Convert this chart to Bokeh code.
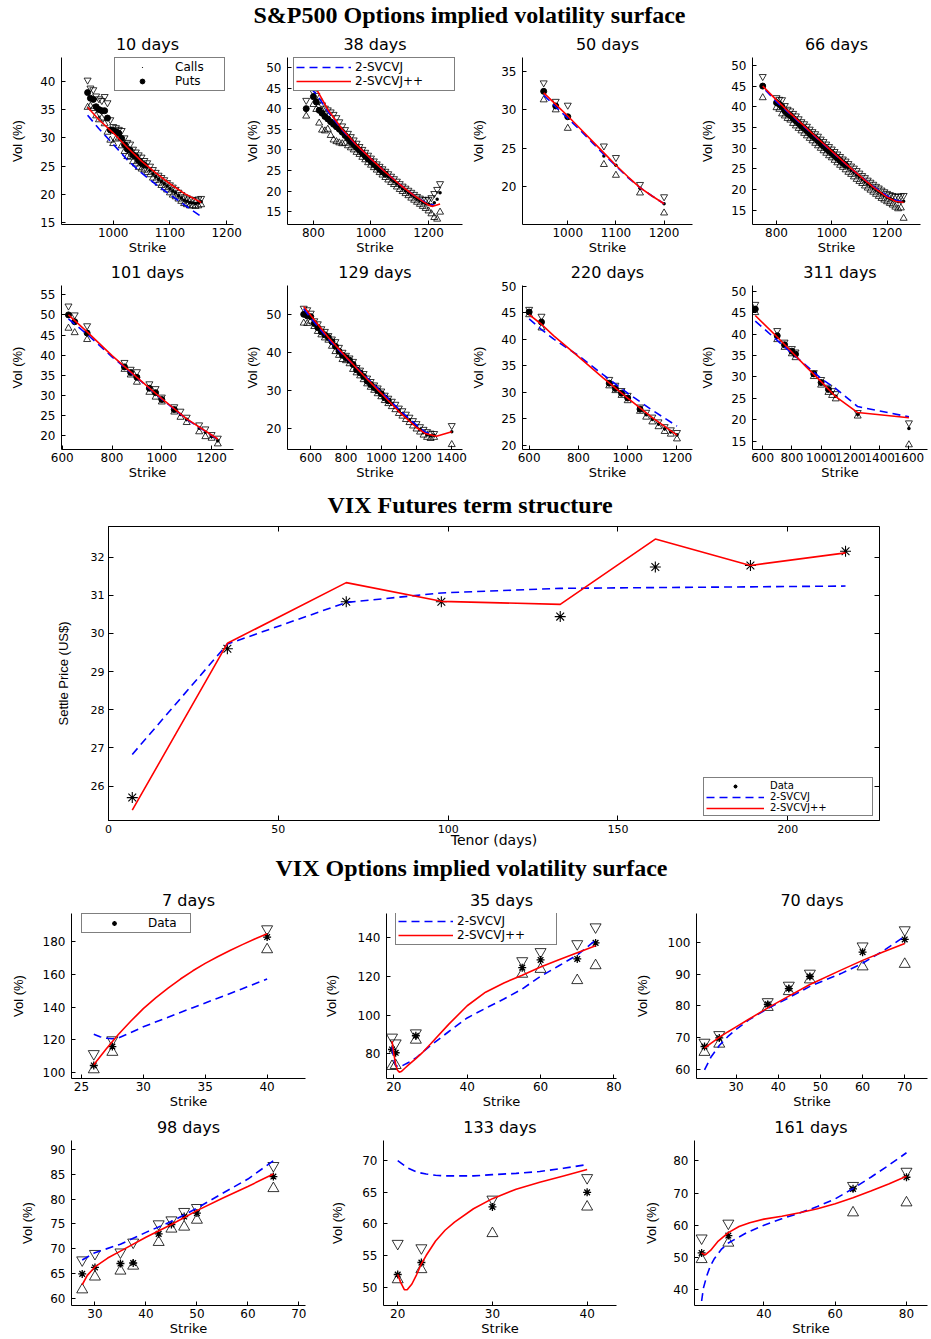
from bokeh.plotting import figure
from bokeh.models import Range1d, FixedTicker, Legend, LegendItem, LinearAxis
from bokeh.layouts import column, row
from bokeh.embed import file_html
from bokeh.resources import INLINE
from bokeh.core.properties import value

# ======================= DATA =======================
# --- S&P500 options: strikes, mid / ask / bid implied vols, model curves ---
spx10_k = [955,960,965,970,975,980,985,990,995,1000,1005,1010,1015,1020,1025,1030,1035,1040,1045,1050,
           1055,1060,1065,1070,1075,1080,1085,1090,1095,1100,1105,1110,1115,1120,1125,1130,1135,1140,1145,1150,1155]
spx10_mid = [38.0,37.0,36.8,35.5,35.0,34.8,34.8,33.5,31.4,31.3,31.1,30.8,29.9,28.8,28.0,27.8,27.0,26.7,26.0,25.5,
             25.2,24.8,24.3,23.6,23.2,22.7,22.3,21.9,21.5,21.0,20.6,20.3,19.8,19.4,19.0,18.8,18.6,18.5,18.4,18.5,18.7]
spx10_ask = [40.2,38.8,38.5,37.4,36.9,36.6,37.3,36.2,33.2,32.0,31.8,31.5,31.3,30.0,29.2,28.9,28.0,27.5,27.0,26.6,
             26.0,25.6,25.0,24.4,23.9,23.4,23.0,22.6,22.1,21.7,21.3,20.9,20.4,20.0,19.6,19.4,19.2,19.1,19.0,19.2,19.3]
spx10_bid = [35.4,35.6,35.2,33.9,33.2,33.5,32.5,31.0,29.6,29.0,29.8,30.0,28.6,27.6,26.7,26.6,25.8,25.4,24.8,24.5,
             24.3,23.9,23.5,22.9,22.5,22.0,21.6,21.2,20.8,20.3,19.9,19.6,19.2,18.8,18.4,18.2,18.0,18.0,17.9,18.0,18.2]
spx10_ck = [955,975,1000,1025,1050,1075,1100,1125,1155]
spx10_svcvj = [34.0,31.6,28.9,26.1,23.8,21.8,20.0,18.2,16.1]
spx10_svcvjpp = [35.4,33.2,30.9,28.3,25.9,23.8,21.9,20.2,18.6]

spx38_k = [775,800,810,820,830,840,850,860,870,880,890,900,910,920,930,940,950,960,970,980,990,1000,1010,1020,
           1030,1040,1050,1060,1070,1080,1090,1100,1110,1120,1130,1140,1150,1160,1170,1180,1190,1200,1210,1220,1230,1240]
spx38_mid = [40.0,42.9,41.6,39.6,38.9,38.1,37.5,36.8,36.2,35.6,35.0,34.3,33.5,32.8,32.0,31.3,30.6,29.9,29.2,28.5,27.8,
             27.2,26.5,25.9,25.3,24.7,24.1,23.5,22.9,22.3,21.8,21.2,20.6,20.1,19.6,19.1,18.6,18.1,17.7,17.3,17.0,16.8,
             16.6,17.2,18.0,19.6]
spx38_ask = [42.0,44.0,43.2,41.8,40.9,40.1,39.7,39.2,38.6,37.8,36.8,35.8,34.9,34.0,33.2,32.4,31.6,30.8,30.1,29.4,28.7,
             28.0,27.3,26.6,26.0,25.4,24.8,24.2,23.6,23.0,22.4,21.8,21.2,20.7,20.2,19.7,19.2,18.7,18.3,18.0,17.9,18.0,
             18.4,19.4,20.4,21.8]
spx38_bid = [38.2,41.0,39.8,36.5,34.8,34.6,35.0,33.5,32.4,32.0,31.7,31.5,31.6,31.0,30.5,30.0,29.4,28.9,28.2,27.6,26.9,
             26.3,25.7,25.1,24.5,23.9,23.3,22.7,22.1,21.6,21.0,20.4,19.9,19.4,18.9,18.3,17.8,17.3,16.8,16.3,15.8,15.2,
             14.5,13.6,13.2,14.9]
spx38_ck_b = [790,814,850,900,950,1000,1050,1100,1150,1200,1220]
spx38_svcvj = [45.0,43.2,39.3,34.8,31.1,27.8,24.6,21.6,18.9,16.8,16.6]
spx38_ck_r = [814,850,900,950,1000,1050,1100,1150,1200,1215,1240]
spx38_svcvjpp = [44.3,39.8,35.0,31.2,27.8,24.6,21.6,18.9,16.6,16.3,16.9]

spx50_k = [950,975,1000,1075,1100,1150,1200]
spx50_mid = [32.4,30.5,29.1,24.0,22.8,19.8,17.8]
spx50_ask = [33.5,31.1,30.6,25.3,23.8,20.3,18.7]
spx50_bid = [31.3,30.0,27.6,22.9,21.5,19.2,16.6]
spx50_ck = [950,975,1000,1025,1050,1075,1100,1125,1150,1175,1200]
spx50_svcvj = [31.9,30.4,28.9,27.4,25.8,24.2,22.7,21.2,19.9,18.8,17.8]
spx50_svcvjpp = [32.2,30.7,29.2,27.6,26.0,24.4,22.8,21.3,19.9,18.8,17.8]

spx66_k = [750,800,810,820,830,840,850,860,870,880,890,900,910,920,930,940,950,960,970,980,990,1000,1010,1020,
           1030,1040,1050,1060,1070,1080,1090,1100,1110,1120,1130,1140,1150,1160,1170,1180,1190,1200,1210,1220,1230,
           1240,1250,1260]
spx66_mid = [45.0,41.0,40.6,40.0,39.0,38.3,37.9,37.2,36.6,36.0,35.3,34.8,34.2,33.5,32.9,32.4,31.8,31.1,30.5,29.9,29.3,
             28.8,28.2,27.6,27.0,26.4,25.9,25.3,24.7,24.2,23.6,23.1,22.5,22.0,21.4,20.9,20.4,19.9,19.5,19.0,18.6,18.2,
             17.9,17.6,17.3,17.1,17.0,17.2]
spx66_ask = [47.3,42.2,41.8,41.7,40.3,39.4,39.0,38.4,37.8,37.1,36.4,35.9,35.3,34.6,34.0,33.5,32.9,32.2,31.6,31.0,30.4,
             29.8,29.2,28.6,28.0,27.4,26.9,26.3,25.7,25.2,24.6,24.0,23.4,22.9,22.3,21.8,21.3,20.8,20.4,19.9,19.5,19.1,
             18.8,18.6,18.4,18.4,18.5,18.6]
spx66_bid = [42.2,39.8,39.4,38.3,37.8,37.2,36.8,36.0,35.4,34.8,34.2,33.6,33.0,32.4,31.8,31.2,30.6,30.0,29.4,28.8,28.2,
             27.7,27.1,26.5,25.9,25.4,24.8,24.2,23.7,23.1,22.5,22.0,21.5,20.9,20.4,19.9,19.4,18.9,18.4,17.9,17.5,17.1,
             16.7,16.3,15.8,15.4,15.6,13.1]
spx66_ck_b = [760,800,850,900,950,1000,1050,1100,1150,1200,1230,1260]
spx66_svcvj = [44.0,41.2,38.2,35.2,32.2,29.2,26.2,23.4,20.8,18.5,17.5,17.0]
spx66_ck_r = [750,800,850,900,950,1000,1050,1100,1150,1200,1230,1260]
spx66_svcvjpp = [45.0,41.6,38.4,35.4,32.3,29.3,26.3,23.4,20.6,18.2,17.2,16.9]

spx101_k = [625,650,700,850,875,900,950,975,1000,1050,1075,1100,1150,1175,1200,1225]
spx101_mid = [50.0,48.3,45.5,37.1,35.7,34.5,31.8,30.7,29.0,26.5,25.3,24.1,21.9,20.9,19.8,18.8]
spx101_ask = [52.2,50.0,47.3,38.2,36.5,35.9,32.9,31.7,29.6,27.2,26.1,24.6,22.7,21.7,20.3,19.4]
spx101_bid = [46.7,45.6,43.9,36.5,35.1,33.3,30.8,29.6,28.4,25.9,24.6,23.3,21.0,19.8,19.4,18.0]
spx101_ck = [625,700,800,900,1000,1100,1200,1225]
spx101_svcvj = [49.0,45.2,39.6,34.4,29.1,24.1,20.1,19.1]
spx101_svcvjpp = [50.0,45.8,39.9,34.5,29.2,24.2,20.2,19.2]

spx129_k = [560,580,600,620,640,660,680,700,720,740,760,780,800,820,840,860,880,900,920,940,960,980,1000,1020,
            1040,1060,1080,1100,1120,1140,1160,1180,1200,1220,1240,1260,1280,1300,1400]
spx129_mid = [50.0,49.6,49.4,47.6,46.5,45.4,44.6,43.9,42.8,41.6,40.3,39.2,38.6,37.9,36.8,35.4,34.6,33.6,32.4,31.5,
              30.7,29.9,29.1,28.0,27.2,26.4,25.6,24.6,23.9,23.0,22.2,21.3,20.5,19.6,18.9,18.3,18.0,18.1,19.1]
spx129_ask = [51.6,51.2,50.3,48.3,47.5,46.2,45.5,44.4,43.5,42.8,41.3,40.0,39.2,38.5,37.6,36.0,35.3,34.4,33.2,32.3,
              31.4,30.6,29.8,28.7,27.9,27.1,26.3,25.3,24.6,23.7,22.9,22.0,21.2,20.4,19.7,19.1,18.7,18.6,20.7]
spx129_bid = [47.7,47.6,48.2,46.8,45.5,44.6,43.8,43.2,41.6,40.2,39.2,38.1,37.8,37.0,35.5,34.6,33.8,32.8,31.7,30.8,
              30.0,29.1,28.3,27.3,26.5,25.7,24.9,23.9,23.2,22.3,21.5,20.6,19.8,19.0,18.2,17.6,17.3,17.6,15.7]
spx129_ck_b = [560,600,700,800,900,1000,1100,1200,1250,1290]
spx129_svcvj = [51.4,49.0,43.5,38.6,34.1,29.6,25.0,20.8,19.0,18.3]
spx129_ck_r = [560,600,700,800,900,1000,1100,1200,1250,1313,1400]
spx129_svcvjpp = [52.1,49.7,43.9,38.8,33.9,29.2,24.4,20.2,18.6,17.9,19.1]

spx220_k = [600,650,925,950,975,1000,1050,1075,1100,1125,1150,1175,1200]
spx220_mid = [45.1,43.2,31.7,30.7,29.8,28.9,26.8,25.8,24.9,24.0,23.1,22.6,22.0]
spx220_ask = [45.6,44.3,32.4,31.3,30.3,29.4,27.2,26.2,25.3,24.4,23.5,22.9,22.4]
spx220_bid = [44.6,42.1,31.2,30.3,29.4,28.4,26.4,25.3,24.4,23.5,22.6,22.1,21.2]
spx220_ck = [600,650,700,800,900,1000,1100,1200]
spx220_svcvj = [43.8,41.8,40.0,36.9,33.3,29.8,26.6,23.6]
spx220_svcvjpp = [44.6,42.8,40.6,36.7,32.7,28.9,25.2,21.9]

spx311_k = [550,700,750,800,825,950,1000,1050,1075,1100,1250,1600]
spx311_mid = [45.8,39.6,37.5,36.0,35.3,30.7,28.7,27.1,26.3,25.5,21.3,18.0]
spx311_ask = [46.9,40.8,38.1,36.6,35.8,31.0,29.4,27.6,26.8,26.1,21.7,19.3]
spx311_bid = [45.0,38.7,36.9,35.4,34.5,30.1,28.1,26.4,25.7,24.9,20.9,14.2]
spx311_ck = [550,700,800,900,1000,1100,1250,1600]
spx311_svcvj = [43.0,38.5,35.5,32.6,29.6,27.3,23.1,20.7]
spx311_svcvjpp = [44.3,39.3,35.8,32.3,28.9,25.4,21.7,20.5]

PUT_CALL_SPLIT = 1060   # strikes below: puts (large dots), above: calls (small dots)

# --- VIX futures term structure ---
fut_tenor = [7, 35, 70, 98, 133, 161, 189, 217]
fut_data = [25.70, 29.60, 30.83, 30.83, 30.44, 31.74, 31.78, 32.15]
fut_svcvj = [26.83, 29.72, 30.81, 31.06, 31.18, 31.20, 31.22, 31.24]
fut_svcvjpp = [25.37, 29.74, 31.33, 30.84, 30.76, 32.47, 31.78, 32.11]

# --- VIX options ---
vix7_k = [26, 27.5, 40]
vix7_mid = [104.5, 116.0, 182.5]
vix7_ask = [111.6, 120.0, 187.4]
vix7_bid = [102.0, 112.6, 174.9]
vix7_ck_b = [26, 26.5, 27, 27.5, 28, 29, 30, 32, 34, 36, 38, 40]
vix7_svcvj = [123.5, 122.0, 121.0, 120.7, 121.3, 124.5, 128.0, 133.8, 139.6, 145.3, 151.1, 157.0]
vix7_ck_r = [26, 27, 28, 29, 30, 31, 32, 33, 34, 35, 36, 37, 38, 39, 40]
vix7_svcvjpp = [105.0, 114.5, 123.5, 131.5, 139.0, 145.5, 151.5, 157.0, 162.0, 166.5, 170.5, 174.3, 177.9, 181.3, 184.5]

vix35_k = [19.5, 20.5, 26, 55, 60, 70, 75]
vix35_mid = [82.2, 80.5, 89.3, 124.5, 128.5, 129.0, 137.3]
vix35_ask = [88.5, 85.5, 90.7, 128.0, 132.7, 136.8, 145.5]
vix35_bid = [73.5, 74.0, 87.1, 121.2, 123.7, 117.9, 125.6]
vix35_ck_b = [19.5, 20, 20.5, 21, 22, 23, 24, 26, 28, 30, 35, 40, 45, 50, 55, 60, 65, 70, 75]
vix35_svcvj = [83.5, 77.0, 74.0, 73.5, 73.5, 74.5, 75.5, 77.8, 81.0, 84.2, 91.5, 98.5, 103.5, 108.3, 113.5, 120.0,
               125.5, 131.0, 138.7]
vix35_ck_r = [19.5, 20, 20.5, 21, 21.5, 22, 23, 24, 26, 28, 30, 35, 40, 45, 50, 55, 60, 65, 70, 75]
vix35_svcvjpp = [86.5, 80.0, 74.5, 71.5, 70.5, 70.8, 72.5, 74.2, 77.5, 81.0, 85.0, 95.3, 104.8, 111.8, 116.6, 120.6,
                 124.8, 128.6, 132.2, 135.8]

vix70_k = [22.5, 26, 37.5, 42.5, 47.5, 60, 70]
vix70_mid = [67.2, 69.9, 80.5, 85.5, 89.3, 97.0, 101.0]
vix70_ask = [68.5, 70.9, 81.3, 86.5, 90.3, 98.9, 104.0]
vix70_bid = [65.4, 68.0, 79.6, 84.6, 88.3, 92.4, 93.2]
vix70_ck = [22.5, 24, 26, 28, 30, 33, 37.5, 42.5, 47.5, 55, 60, 65, 70]
vix70_svcvj = [59.8, 63.8, 67.5, 70.3, 72.6, 75.6, 79.2, 82.6, 86.2, 90.3, 93.5, 97.5, 102.0]
vix70_svcvjpp = [66.7, 68.2, 70.1, 71.8, 73.4, 75.8, 79.4, 83.1, 86.8, 91.4, 94.4, 97.1, 99.7]

vix98_k = [27.5, 30, 35, 37.5, 42.5, 45, 47.5, 50, 65]
vix98_mid = [64.9, 66.2, 67.0, 67.1, 73.0, 74.9, 76.5, 77.2, 84.6]
vix98_ask = [67.7, 69.0, 69.3, 71.3, 75.0, 75.8, 77.5, 78.3, 86.8]
vix98_bid = [61.7, 64.3, 65.5, 66.5, 71.3, 74.0, 74.4, 75.8, 82.2]
vix98_ck_b = [27.5, 30, 35, 40, 45, 50, 55, 60, 65]
vix98_svcvj = [67.7, 69.2, 70.9, 73.3, 75.5, 78.2, 81.2, 84.1, 87.8]
vix98_ck_r = [27.5, 28.5, 30, 32.5, 35, 40, 45, 50, 55, 60, 65]
vix98_svcvjpp = [62.7, 64.6, 66.3, 68.1, 69.5, 72.3, 74.9, 77.7, 80.2, 82.6, 85.1]

vix133_k = [20, 22.5, 30, 40]
vix133_mid = [52.0, 53.9, 62.7, 65.0]
vix133_ask = [56.9, 56.2, 63.9, 67.3]
vix133_bid = [51.2, 52.8, 58.5, 62.7]
vix133_ck_b = [20, 21, 22, 23, 24, 25, 26, 28, 30, 32.5, 35, 37.5, 40]
vix133_svcvj = [70.0, 68.9, 68.2, 67.9, 67.7, 67.6, 67.6, 67.6, 67.8, 68.0, 68.3, 68.8, 69.4]
vix133_ck_r = [20, 20.3, 20.7, 21, 21.5, 22, 22.5, 23, 24, 25, 26, 28, 30, 32.5, 35, 37.5, 40]
vix133_svcvjpp = [52.0, 50.8, 49.6, 49.6, 50.5, 52.0, 53.7, 55.0, 57.3, 59.0, 60.3, 62.4, 64.0, 65.5, 66.6, 67.6, 68.6]

vix161_k = [22.5, 30, 65, 80]
vix161_mid = [51.4, 56.8, 71.3, 74.9]
vix161_ask = [56.0, 60.6, 72.3, 76.7]
vix161_bid = [49.4, 54.5, 63.9, 67.0]
vix161_ck_b = [22.5, 23, 24, 25, 26, 28, 30, 35, 40, 45, 50, 55, 60, 65, 70, 75, 80]
vix161_svcvj = [36.5, 40.5, 44.5, 47.5, 49.5, 52.5, 54.5, 57.6, 60.0, 62.0, 63.8, 65.8, 68.2, 71.4, 74.9, 78.6, 82.5]
vix161_ck_r = [22.5, 23.5, 25, 27, 30, 33, 36, 40, 45, 50, 55, 60, 65, 70, 75, 80]
vix161_svcvjpp = [51.4, 50.8, 52.2, 54.9, 57.7, 59.6, 60.8, 61.9, 62.8, 63.9, 65.1, 66.7, 68.5, 70.6, 72.8, 75.2]

# ======================= STYLE / HELPERS =======================
RED = "#ff0000"
BLUE = "#0000ff"
DASH = "8 5"
SANS = "DejaVu Sans"
NARROW = "Liberation Sans"
SERIF = "Liberation Serif"


def base_fig(width, height, borders, xr, yr, title=None, title_standoff=7):
    l, r, t, b = borders
    p = figure(width=width, height=height, x_range=Range1d(*xr), y_range=Range1d(*yr),
               toolbar_location=None, output_backend="svg", title=title,
               min_border_left=l, min_border_right=r, min_border_top=t, min_border_bottom=b)
    p.outline_line_color = None
    p.grid.visible = False
    if title:
        p.title.align = "center"
        p.title.text_font = SANS
        p.title.text_font_size = "16px"
        p.title.text_font_style = "normal"
        p.title.text_color = "black"
        p.title.standoff = title_standoff
    return p


def style_axes(p, xticks, yticks, xlabel, ylabel, ylab_standoff, tick_size="12px",
               xlab_size="13px", ylab_size="13px", xlab_standoff=0, xtick_standoff=3, ytick_standoff=6,
               tick_in=4):
    p.xaxis.ticker = FixedTicker(ticks=xticks)
    p.yaxis.ticker = FixedTicker(ticks=yticks)
    p.xaxis.axis_label = xlabel
    p.yaxis.axis_label = ylabel
    for ax in list(p.xaxis) + list(p.yaxis):
        ax.major_tick_in = tick_in
        ax.major_tick_out = 0
        ax.minor_tick_line_color = None
        ax.axis_line_color = "black"
        ax.major_tick_line_color = "black"
        ax.major_label_text_font = SANS
        ax.major_label_text_font_size = tick_size
        ax.major_label_text_color = "black"
        ax.axis_label_text_font_style = "normal"
        ax.axis_label_text_color = "black"
    p.xaxis.major_label_standoff = xtick_standoff
    p.yaxis.major_label_standoff = ytick_standoff
    p.xaxis.axis_label_text_font = SANS
    p.xaxis.axis_label_text_font_size = xlab_size
    p.xaxis.axis_label_standoff = xlab_standoff
    p.yaxis.axis_label_text_font = NARROW
    p.yaxis.axis_label_text_font_size = ylab_size
    p.yaxis.axis_label_standoff = ylab_standoff


def add_legend(p, items, loc, glyph_w, label_w, font_size="12px", standoff=4, row_h=12):
    leg = Legend(items=[LegendItem(label=lab, renderers=[r]) for lab, r in items], location=loc)
    leg.glyph_width = glyph_w
    leg.glyph_height = row_h
    leg.label_width = label_w
    leg.label_height = row_h
    leg.label_standoff = standoff
    leg.padding = 2
    leg.spacing = 0
    leg.margin = 0
    leg.border_line_color = "black"
    leg.border_line_width = 1
    leg.background_fill_color = "white"
    leg.background_fill_alpha = 1
    leg.label_text_font = SANS
    leg.label_text_font_size = font_size
    leg.label_text_color = "black"
    p.add_layout(leg, "center")


def bidask(p, k, ask, bid, size):
    p.scatter(k, ask, marker="inverted_triangle", size=size, fill_color=None,
              line_color="black", line_width=0.8)
    p.scatter(k, bid, marker="triangle", size=size, fill_color=None,
              line_color="black", line_width=0.8)


def spx_panel(title, k, mid, ask, bid, ckb, svb, ckr, svr, xr, yr, xt, yt, width, height, borders, ysoff):
    p = base_fig(width, height, borders, xr, yr, title)
    style_axes(p, xt, yt, "Strike", "Vol (%)", ysoff)
    bidask(p, k, ask, bid, 7)
    pk = [a for a in k if a < PUT_CALL_SPLIT]
    pv = [b for a, b in zip(k, mid) if a < PUT_CALL_SPLIT]
    ck = [a for a in k if a >= PUT_CALL_SPLIT]
    cv = [b for a, b in zip(k, mid) if a >= PUT_CALL_SPLIT]
    r_calls = p.scatter(ck, cv, marker="dot", size=14, fill_color="black", line_color="black")
    r_puts = p.scatter(pk, pv, marker="circle", size=6, fill_color="black", line_color="black")
    r_b = p.line(ckb, svb, line_color=BLUE, line_width=1.6, line_dash=DASH)
    r_r = p.line(ckr, svr, line_color=RED, line_width=1.6)
    return p, r_calls, r_puts, r_b, r_r


def vix_panel(title, k, mid, ask, bid, ckb, svb, ckr, svr, xr, yr, xt, yt, width, height, borders, ysoff):
    p = base_fig(width, height, borders, xr, yr, title, title_standoff=8)
    style_axes(p, xt, yt, "Strike", "Vol (%)", ysoff)
    bidask(p, k, ask, bid, 11)
    r_d = p.scatter(k, mid, marker="asterisk", size=8, line_color="black", line_width=1.3)
    r_b = p.line(ckb, svb, line_color=BLUE, line_width=1.6, line_dash=DASH)
    r_r = p.line(ckr, svr, line_color=RED, line_width=1.6)
    return p, r_d, r_b, r_r


# text strips share the futures panel's frame (108..879 px), so x is in page pixels
def text_fig(txt, top, bottom, xleft, ytext):
    p = figure(width=930, height=bottom - top, x_range=Range1d(108, 879), y_range=Range1d(bottom, top),
               toolbar_location=None, output_backend="svg", title=None,
               min_border_left=108, min_border_right=51, min_border_top=0, min_border_bottom=0,
               x_axis_location=None, y_axis_location=None)
    p.grid.visible = False
    p.outline_line_color = None
    p.text(x=[xleft], y=[ytext], text=[txt], text_align="left", text_baseline="middle",
           text_font=value(SERIF), text_font_style="bold", text_font_size="24px", text_color="black")
    return p


# ======================= S&P500 PANELS =======================
W4 = [242, 226, 229, 233]
B4a = [(61, 9), (41, 6), (51, 5), (51, 10)]
B4b = [(61, 9), (41, 6), (51, 5), (51, 3)]
H1, T1, BT1 = 228, 28, 32
H2, T2, BT2 = 225, 28, 32

s1, s1_calls, s1_puts, _, _ = spx_panel("10 days", spx10_k, spx10_mid, spx10_ask, spx10_bid,
                                        spx10_ck, spx10_svcvj, spx10_ck, spx10_svcvjpp,
                                        (909, 1212), (14.7, 44.2), [1000, 1100, 1200], [15, 20, 25, 30, 35, 40],
                                        W4[0], H1, (*B4a[0], T1, BT1), 12)
add_legend(s1, [("Calls", s1_calls), ("Puts", s1_puts)], (53, 133), 50, 47, standoff=8)

s2, _, _, s2_b, s2_r = spx_panel("38 days", spx38_k, spx38_mid, spx38_ask, spx38_bid,
                                 spx38_ck_b, spx38_svcvj, spx38_ck_r, spx38_svcvjpp,
                                 (710, 1318), (11.9, 52.4), [800, 1000, 1200], [15, 20, 25, 30, 35, 40, 45, 50],
                                 W4[1], H1, (*B4a[1], T1, BT1), 3)
add_legend(s2, [("2-SVCVJ", s2_b), ("2-SVCVJ++", s2_r)], (6, 133), 55, 97)

s3, *_ = spx_panel("50 days", spx50_k, spx50_mid, spx50_ask, spx50_bid,
                   spx50_ck, spx50_svcvj, spx50_ck, spx50_svcvjpp,
                   (906, 1259), (15.1, 36.8), [1000, 1100, 1200], [20, 25, 30, 35],
                   W4[2], H1, (*B4a[2], T1, BT1), 12)

s4, *_ = spx_panel("66 days", spx66_k, spx66_mid, spx66_ask, spx66_bid,
                   spx66_ck_b, spx66_svcvj, spx66_ck_r, spx66_svcvjpp,
                   (713, 1321), (11.6, 51.9), [800, 1000, 1200], [15, 20, 25, 30, 35, 40, 45, 50],
                   W4[3], H1, (*B4a[3], T1, BT1), 13)

s5, *_ = spx_panel("101 days", spx101_k, spx101_mid, spx101_ask, spx101_bid,
                   spx101_ck, spx101_svcvj, spx101_ck, spx101_svcvjpp,
                   (597, 1288), (16.6, 57.3), [600, 800, 1000, 1200], [20, 25, 30, 35, 40, 45, 50, 55],
                   W4[0], H2, (*B4b[0], T2, BT2), 12)

s6, *_ = spx_panel("129 days", spx129_k, spx129_mid, spx129_ask, spx129_bid,
                   spx129_ck_b, spx129_svcvj, spx129_ck_r, spx129_svcvjpp,
                   (468, 1461), (14.4, 57.6), [600, 800, 1000, 1200, 1400], [20, 30, 40, 50],
                   W4[1], H2, (*B4b[1], T2, BT2), 3)

s7, *_ = spx_panel("220 days", spx220_k, spx220_mid, spx220_ask, spx220_bid,
                   spx220_ck, spx220_svcvj, spx220_ck, spx220_svcvjpp,
                   (573, 1263), (19.2, 50.1), [600, 800, 1000, 1200], [20, 25, 30, 35, 40, 45, 50],
                   W4[2], H2, (*B4b[2], T2, BT2), 12)

s8, *_ = spx_panel("311 days", spx311_k, spx311_mid, spx311_ask, spx311_bid,
                   spx311_ck, spx311_svcvj, spx311_ck, spx311_svcvjpp,
                   (531, 1727), (13.1, 51.3), [600, 800, 1000, 1200, 1400, 1600], [15, 20, 25, 30, 35, 40, 45, 50],
                   W4[3], H2, (*B4b[3], T2, BT2), 13)

# ======================= VIX FUTURES =======================
fut_xticks = [0, 50, 100, 150, 200]
fut_yticks = [26, 27, 28, 29, 30, 31, 32]
pf = base_fig(930, 332, (108, 51, 6, 32), (0, 227), (25.1, 32.8))
pf.outline_line_color = "black"
style_axes(pf, fut_xticks, fut_yticks, "Tenor (days)", "Settle Price (US$)", 17,
           tick_size="11px", xlab_size="14px", ylab_size="13px", xlab_standoff=-4,
           xtick_standoff=4, ytick_standoff=4, tick_in=5)
for loc, tk in (("right", fut_yticks), ("above", fut_xticks)):
    ax = LinearAxis(ticker=FixedTicker(ticks=tk), major_label_text_font_size="1px", major_label_text_color=None,
                    major_tick_in=5, major_tick_out=0, minor_tick_line_color=None, axis_line_color=None,
                    major_label_standoff=0, major_tick_line_color="black")
    pf.add_layout(ax, loc)
rf_d = pf.scatter(fut_tenor, fut_data, marker="asterisk", size=11, line_color="black", line_width=1.1)
rf_b = pf.line(fut_tenor, fut_svcvj, line_color=BLUE, line_width=1.6, line_dash=DASH)
rf_r = pf.line(fut_tenor, fut_svcvjpp, line_color=RED, line_width=1.6)
add_legend(pf, [("Data", rf_d), ("2-SVCVJ", rf_b), ("2-SVCVJ++", rf_r)], (595, 4), 58, 100,
           font_size="10px", standoff=6, row_h=10)

# ======================= VIX OPTIONS =======================
W3 = [320, 311, 299]
B3 = [(71, 15), (63, 15), (63, 3)]
VH1, VT1, VB1 = 227, 29, 32
VH2, VT2, VB2 = 227, 29, 32

v1, v1_d, _, _ = vix_panel("7 days", vix7_k, vix7_mid, vix7_ask, vix7_bid,
                           vix7_ck_b, vix7_svcvj, vix7_ck_r, vix7_svcvjpp,
                           (24.2, 43.1), (96.6, 196.8), [25, 30, 35, 40], [100, 120, 140, 160, 180],
                           W3[0], VH1, (*B3[0], VT1, VB1), 14)
add_legend(v1, [("Data", v1_d)], (10, 145), 60, 40)

v2, _, v2_b, v2_r = vix_panel("35 days", vix35_k, vix35_mid, vix35_ask, vix35_bid,
                              vix35_ck_b, vix35_svcvj, vix35_ck_r, vix35_svcvjpp,
                              (18.0, 80.7), (67.2, 152.5), [20, 40, 60, 80], [80, 100, 120, 140],
                              W3[1], VH1, (*B3[1], VT1, VB1), 16)
add_legend(v2, [("2-SVCVJ", v2_b), ("2-SVCVJ++", v2_r)], (9, 133), 55, 97)

v3, *_ = vix_panel("70 days", vix70_k, vix70_mid, vix70_ask, vix70_bid,
                   vix70_ck, vix70_svcvj, vix70_ck, vix70_svcvjpp,
                   (20.6, 75.4), (57.1, 109.2), [30, 40, 50, 60, 70], [60, 70, 80, 90, 100],
                   W3[2], VH1, (*B3[2], VT1, VB1), 15)

v4, *_ = vix_panel("98 days", vix98_k, vix98_mid, vix98_ask, vix98_bid,
                   vix98_ck_b, vix98_svcvj, vix98_ck_r, vix98_svcvjpp,
                   (25.4, 71.3), (58.5, 91.9), [30, 40, 50, 60, 70], [60, 65, 70, 75, 80, 85, 90],
                   W3[0], VH2, (*B3[0], VT2, VB2), 12)

v5, *_ = vix_panel("133 days", vix133_k, vix133_mid, vix133_ask, vix133_bid,
                   vix133_ck_b, vix133_svcvj, vix133_ck_r, vix133_svcvjpp,
                   (18.5, 43.1), (47.1, 73.2), [20, 30, 40], [50, 55, 60, 65, 70],
                   W3[1], VH2, (*B3[1], VT2, VB2), 14)

v6, *_ = vix_panel("161 days", vix161_k, vix161_mid, vix161_ask, vix161_bid,
                   vix161_ck_b, vix161_svcvj, vix161_ck_r, vix161_svcvjpp,
                   (20.5, 85.9), (35.1, 86.3), [40, 60, 80], [40, 50, 60, 70, 80],
                   W3[2], VH2, (*B3[2], VT2, VB2), 11)

# ======================= LAYOUT =======================
t1 = text_fig("S&P500 Options implied volatility surface", 0, 29, 253, 14)
t2 = text_fig("VIX Futures term structure", 482, 520, 327, 504)
t3 = text_fig("VIX Options implied volatility surface", 852, 884, 275, 867)

layout = column(t1, row(s1, s2, s3, s4), row(s5, s6, s7, s8), t2, pf, t3,
                row(v1, v2, v3), row(v4, v5, v6))

open("out.html", "w").write(file_html(layout, INLINE))
